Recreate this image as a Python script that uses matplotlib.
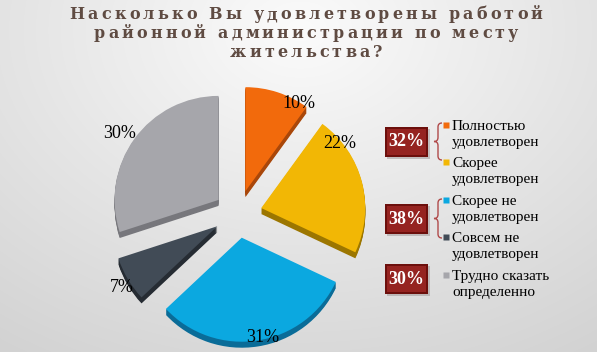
import numpy as np
import matplotlib.pyplot as plt
from matplotlib.patches import Rectangle, PathPatch
from matplotlib.path import Path
from matplotlib.font_manager import FontProperties
from matplotlib.colors import LinearSegmentedColormap

# data
title_lines = ['Насколько Вы удовлетворены работой',
               'районной администрации по месту',
               'жительства?']
categories = ['Полностью\nудовлетворен', 'Скорее\nудовлетворен',
              'Скорее не\nудовлетворен', 'Совсем не\nудовлетворен',
              'Трудно сказать\nопределенно']
values = [10, 22, 31, 7, 30]
group_labels = ['32%', '38%', '30%']

top_colors = ['#f26a0c', '#f2b705', '#0ba8e0', '#414b56', '#a6a6ab']
side_colors = ['#a9470a', '#9c7600', '#0a6c98', '#262c33', '#77777c']

W, H = 597, 352


def Y(y):
    return H - y


fig = plt.figure(figsize=(W / 100, H / 100), dpi=100)

# background gradient
bg = fig.add_axes([0, 0, 1, 1])
yy, xx = np.mgrid[0:H, 0:W]
rr = np.hypot((xx - 300) / W, (yy - 30) / H * 0.8)
bg.imshow(rr, cmap=LinearSegmentedColormap.from_list('bg', ['#fbfbfb', '#e6e6e6', '#d2d2d2']),
          extent=(0, W, 0, H), aspect='auto', origin='upper')
bg.axis('off')

ax = fig.add_axes([0, 0, 1, 1])
ax.patch.set_alpha(0)

# pie with a little depth (explode is in data units here)
cx, cy, R = 238, Y(214), 104
explode = [24] * len(values)
for k in range(6, 0, -1):
    ax.pie(values, colors=side_colors, startangle=90, counterclock=False,
           explode=explode, center=(cx, cy - k), radius=R,
           wedgeprops=dict(linewidth=0))
ax.pie(values, colors=top_colors, startangle=90, counterclock=False,
       explode=explode, center=(cx, cy), radius=R,
       wedgeprops=dict(linewidth=0))

pct_pos = [(299, 103), (340, 143), (263, 337), (122, 287), (120, 133)]
for v, (x, y) in zip(values, pct_pos):
    ax.text(x, Y(y), f'{v}%', ha='center', va='center', fontsize=13,
            family='Liberation Serif', color='black')

# legend
leg_top = [120, 157, 195, 232, 270]
sq_y = [125, 162, 200, 237, 275]
for lab, c, t, s in zip(categories, top_colors, leg_top, sq_y):
    ax.plot([445.5], [Y(s)], marker='s', ms=5, color=c, mec='none')
    ax.text(452, Y(t), lab, ha='left', va='top', fontsize=11,
            family='Liberation Serif', color='black', linespacing=1.3)

# group boxes
box_cy = [142, 219, 279]
bw, bh = 43, 30
for lab, y in zip(group_labels, box_cy):
    ax.add_patch(Rectangle((387, Y(y) - bh / 2 - 2), bw, bh, fc='#9b9090', ec='none', alpha=0.5))
    ax.add_patch(Rectangle((385, Y(y) - bh / 2), bw, bh, fc='#6c0f0c', ec='none'))
    ax.add_patch(Rectangle((387, Y(y) - bh / 2 + 2), bw - 4, bh - 4, fc='#952320', ec='none'))
    ax.text(385 + bw / 2, Y(y), lab, ha='center', va='center', fontsize=13, fontweight='bold',
            family='Liberation Serif', color='white')


def brace(x_tip, x_arm, y0, y1):
    xm = (x_tip + x_arm) / 2
    ym = (y0 + y1) / 2
    pts = [(x_arm, y0), (xm, y0), (xm, y0 + 4),
           (xm, ym - 4), (xm, ym), (x_tip, ym),
           (xm, ym), (xm, ym + 4),
           (xm, y1 - 4), (xm, y1), (x_arm, y1)]
    codes = [Path.MOVETO, Path.CURVE3, Path.CURVE3,
             Path.LINETO, Path.CURVE3, Path.CURVE3,
             Path.CURVE3, Path.CURVE3,
             Path.LINETO, Path.CURVE3, Path.CURVE3]
    p = Path([(x, Y(y)) for x, y in pts], codes)
    ax.add_patch(PathPatch(p, fc='none', ec='#b04a4a', lw=1.0))


brace(434, 442, 123, 160)
brace(434, 442, 199, 238)

ax.set_xlim(0, W)
ax.set_ylim(0, H)
ax.set_aspect('auto')
ax.axis('off')

# title with wide letter spacing
prop = FontProperties(family='DejaVu Serif', weight='bold', size=11.5)
rend = fig.canvas.get_renderer()


def w(s):
    return rend.get_text_width_height_descent(s, prop, ismath=False)[0]


track = (473 - w(title_lines[0])) / (len(title_lines[0]) - 1)
for line, base in zip(title_lines, [19, 38, 57]):
    total = w(line) + track * (len(line) - 1)
    x0 = 306 - total / 2
    for i, ch in enumerate(line):
        if ch == ' ':
            continue
        left = w(line[:i + 1]) - w(ch) + i * track
        ax.text(x0 + left, Y(base), ch, fontproperties=prop, color='#5f4b42',
                ha='left', va='baseline')

fig.savefig('out.png', dpi=100)
